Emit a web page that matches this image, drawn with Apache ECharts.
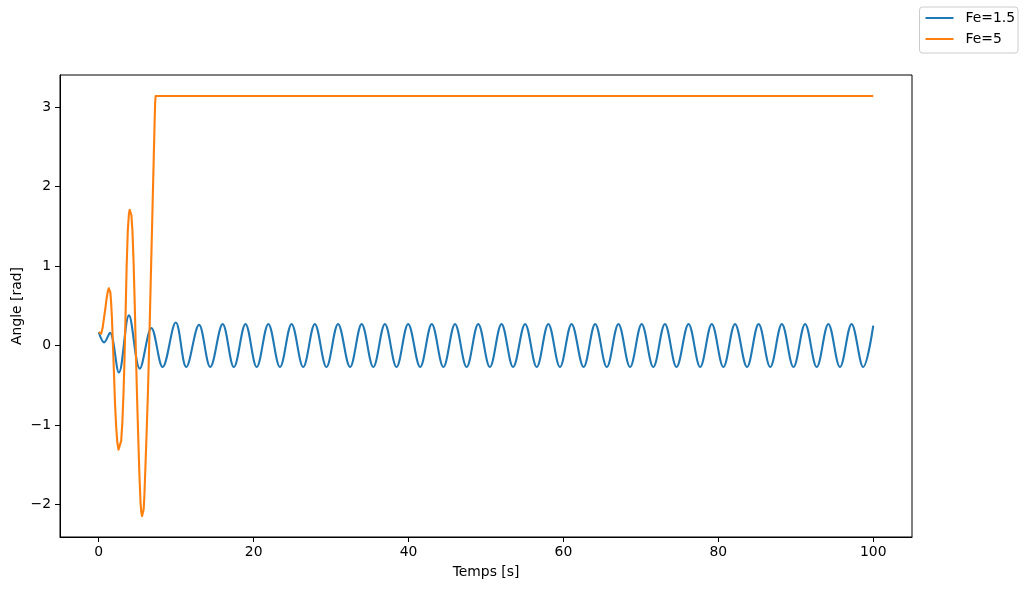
<!DOCTYPE html>
<html>
<head>
<meta charset="utf-8">
<script src="https://cdn.jsdelivr.net/npm/echarts@6/dist/echarts.min.js"></script>
<style>
  html, body { margin: 0; padding: 0; background: #fff; }
  #chart { width: 1025px; height: 590px; }
</style>
</head>
<body>
<div id="chart"></div>
<script>
// ---- Data ----
const seriesNames = ['Fe=1.5', 'Fe=5'];
const xTicks = [0, 20, 40, 60, 80, 100];
const yTicks = [-2, -1, 0, 1, 2, 3];

// Fe=1.5: extremes of the oscillation [time s, angle rad]
const fe15 = [
  [0, 0.17], [0.7, 0.04], [1.45, 0.16], [2.6, -0.34], [3.9, 0.38], [5.3, -0.29],
  [6.8, 0.22], [8.25, -0.27], [9.95, 0.29], [11.3, -0.27], [12.95, 0.26], [14.4, -0.27],
  [16.0, 0.27], [17.45, -0.27], [18.95, 0.27], [20.4, -0.27], [21.9, 0.27], [23.4, -0.27],
  [24.9, 0.27], [26.4, -0.27], [27.9, 0.27], [29.4, -0.27], [30.9, 0.27], [32.45, -0.27],
  [33.95, 0.27], [35.45, -0.27], [36.95, 0.27], [38.45, -0.27], [39.95, 0.27], [41.5, -0.27],
  [43.0, 0.27], [44.5, -0.27], [46.0, 0.27], [47.5, -0.27], [49.0, 0.27], [50.5, -0.27],
  [52.0, 0.27], [53.5, -0.27], [55.05, 0.27], [56.55, -0.27], [58.05, 0.27], [59.55, -0.27],
  [61.05, 0.27], [62.6, -0.27], [64.1, 0.27], [65.6, -0.27], [67.1, 0.27], [68.6, -0.27],
  [70.1, 0.27], [71.6, -0.27], [73.1, 0.27], [74.6, -0.27], [76.15, 0.27], [77.65, -0.27],
  [79.15, 0.27], [80.65, -0.27], [82.15, 0.27], [83.7, -0.27], [85.2, 0.27], [86.7, -0.27],
  [88.2, 0.27], [89.7, -0.27], [91.2, 0.27], [92.7, -0.27], [94.2, 0.27], [95.7, -0.27],
  [97.2, 0.27], [98.7, -0.27], [100, 0.25]
];

// Fe=5: transient then locked at pi [time s, angle rad]
const fe5 = [
  [0, 0.17], [0.15, 0.155], [0.32, 0.15], [0.5, 0.22], [0.7, 0.36], [0.85, 0.46],
  [1.0, 0.58], [1.15, 0.67], [1.3, 0.72], [1.4, 0.72], [1.5, 0.67], [1.6, 0.54],
  [1.7, 0.36], [1.8, 0.1], [1.95, -0.3], [2.1, -0.72], [2.25, -1.02], [2.4, -1.22],
  [2.55, -1.31], [2.65, -1.33], [2.75, -1.31], [2.9, -1.2], [3.05, -0.97], [3.2, -0.6],
  [3.33, -0.17], [3.45, 0.32], [3.6, 0.98], [3.75, 1.44], [3.9, 1.66], [4.0, 1.71],
  [4.1, 1.71], [4.22, 1.64], [4.35, 1.45], [4.5, 1.05], [4.65, 0.52], [4.8, -0.1],
  [4.95, -0.65], [5.1, -1.15], [5.25, -1.62], [5.4, -1.98], [5.5, -2.1], [5.6, -2.145],
  [5.7, -2.14], [5.8, -2.06], [5.9, -1.88], [6.05, -1.47], [6.2, -1.05], [6.35, -0.6],
  [6.5, -0.05], [6.65, 0.55], [6.8, 1.15], [6.95, 1.75], [7.1, 2.35], [7.2, 2.75],
  [7.28, 3.05], [7.35, 3.1416], [100, 3.1416]
];

const FONT = 'DejaVu Sans';
const FS = 13.9;
const fmt = v => (v < 0 ? '\u2212' + Math.abs(v) : String(v));

const chart = echarts.init(document.getElementById('chart'), null, { renderer: 'canvas' });
chart.setOption({
  animation: false,
  backgroundColor: '#ffffff',
  textStyle: { fontFamily: FONT },
  grid: {
    left: 60, right: 113, top: 75, bottom: 53,
    containLabel: false, outerBoundsMode: 'none',
    show: true, borderColor: '#000', borderWidth: 1, backgroundColor: 'transparent'
  },
  legend: {
    data: seriesNames,
    orient: 'vertical',
    right: 7, top: 7,
    padding: [4, 3, 7, 6],
    itemGap: 7,
    icon: 'rect',
    itemWidth: 28, itemHeight: 2,
    backgroundColor: '#fff',
    borderColor: '#cccccc', borderWidth: 1, borderRadius: 3,
    textStyle: { fontFamily: FONT, fontSize: FS, color: '#000', padding: [0, 0, 0, 7], lineHeight: 14 }
  },
  xAxis: {
    type: 'value', min: -5, max: 105,
    name: 'Temps [s]', nameLocation: 'middle', nameGap: 28, nameMoveOverlap: false,
    nameTextStyle: { fontFamily: FONT, fontSize: FS, color: '#000' },
    axisLine: { show: true, onZero: false, lineStyle: { color: '#000', width: 1 } },
    axisTick: { show: true, length: 5, lineStyle: { color: '#000', width: 1 }, customValues: xTicks },
    axisLabel: { fontFamily: FONT, fontSize: FS, color: '#000', margin: 8, customValues: xTicks, formatter: fmt },
    splitLine: { show: false }
  },
  yAxis: {
    type: 'value', min: -2.41, max: 3.406,
    name: 'Angle [rad]', nameLocation: 'middle', nameGap: 36, nameRotate: 90, nameMoveOverlap: false,
    nameTextStyle: { fontFamily: FONT, fontSize: FS, color: '#000' },
    axisLine: { show: true, onZero: false, lineStyle: { color: '#000', width: 1 } },
    axisTick: { show: true, length: 5, lineStyle: { color: '#000', width: 1 }, customValues: yTicks },
    axisLabel: { fontFamily: FONT, fontSize: FS, color: '#000', margin: 9, customValues: yTicks, formatter: fmt },
    splitLine: { show: false }
  },
  series: [
    {
      name: seriesNames[0], type: 'line', data: fe15,
      smooth: 0.36, symbol: 'none', showSymbol: false,
      lineStyle: { color: '#1f77b4', width: 2.1 }, itemStyle: { color: '#1f77b4' }
    },
    {
      name: seriesNames[1], type: 'line', data: fe5,
      smooth: false, symbol: 'none', showSymbol: false,
      lineStyle: { color: '#ff7f0e', width: 2.1, join: 'round' }, itemStyle: { color: '#ff7f0e' }
    }
  ]
});
</script>
</body>
</html>
